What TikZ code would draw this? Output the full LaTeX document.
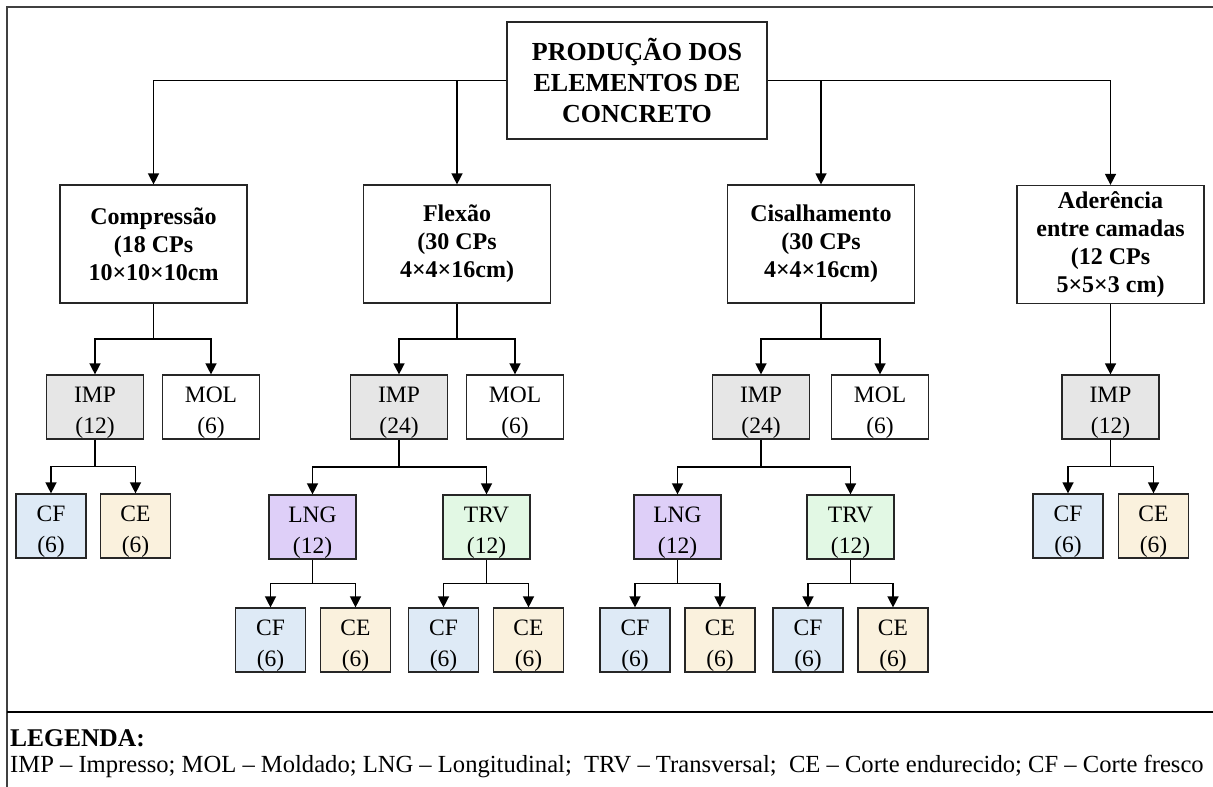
\documentclass[tikz,border=0pt]{standalone}
\usepackage{fontspec}
\setmainfont{Liberation Serif}
\usetikzlibrary{arrows.meta,calc}
\definecolor{impgray}{RGB}{230,230,230}
\definecolor{cfblue}{RGB}{222,234,246}
\definecolor{ceyellow}{RGB}{250,241,221}
\definecolor{lnglilac}{RGB}{222,207,248}
\definecolor{trvgreen}{RGB}{226,248,228}
\newcommand{\vz}{×}

\begin{document}
\begin{tikzpicture}[x=1pt,y=-1pt]
                        \tikzstyle{group}=[draw=black!85, line width=1.2pt, minimum width=187pt, minimum height=118pt, align=center, inner sep=0pt, font=\fontsize{24}{28}\selectfont\bfseries]
                        \tikzstyle{sample}=[draw=black!85, line width=1.2pt, minimum height=64pt, align=center, inner sep=0pt, text height=52pt, text depth=0pt, font=\fontsize{23.5}{31}\selectfont]
                        \tikzstyle{imp}=[sample, minimum width=97pt, fill=impgray]
                        \tikzstyle{mol}=[sample, minimum width=97pt]
                        \tikzstyle{lng}=[sample, minimum width=87pt, fill=lnglilac]
                        \tikzstyle{trv}=[sample, minimum width=87pt, fill=trvgreen]
                        \tikzstyle{cf}=[sample, minimum width=70pt, fill=cfblue]
                        \tikzstyle{ce}=[sample, minimum width=70pt, fill=ceyellow]
                        \tikzstyle{arr}=[line width=1.4pt, -{Triangle[length=11pt,width=11pt]}]
                        \tikzstyle{elbow}=[arr, to path={|- ($(\tikztostart)!0.5!(\tikztotarget)$) -| (\tikztotarget) \tikztonodes}]
                        \useasboundingbox (0,0) rectangle (1213,787);
                        % frame and legend rule
                        \draw[line width=1.3pt, black!75] (1213,7) -- (7,7) -- (7,787);
                        \draw[line width=1.3pt] (7,712) -- (1213,712);
                        % top
                        \node[draw=black!85, line width=1.2pt, minimum width=260pt, minimum height=117pt, align=center, inner sep=0pt, font=\fontsize{26}{31}\selectfont\bfseries] (root) at (637,80.5) {PRODUÇÃO DOS\\ELEMENTOS DE\\CONCRETO};
                        % tests
                        \node[group] (comp) at (153.5,244) {Compressão\\(18 CPs\\10\vz10\vz10cm};
                        \node[group] (flex) at (457,244) {Flexão\\(30 CPs\\4\vz4\vz16cm)};
                        \node[group] (cis) at (821,244) {Cisalhamento\\(30 CPs\\4\vz4\vz16cm)};
                        \node[group] (ader) at (1110.5,244.5) {Aderência\\entre camadas\\(12 CPs\\5\vz5\vz3 cm)};
                        % printed / moulded
                        \node[imp] (impA) at (95,407) {IMP\\(12)};
                        \node[mol] (molA) at (211,407) {MOL\\(6)};
                        \node[imp] (impB) at (399,407) {IMP\\(24)};
                        \node[mol] (molB) at (515,407) {MOL\\(6)};
                        \node[imp] (impC) at (761,407) {IMP\\(24)};
                        \node[mol] (molC) at (880,407) {MOL\\(6)};
                        \node[imp] (impD) at (1110.5,407) {IMP\\(12)};
                        % directions
                        \node[lng] (lngB) at (312.5,527) {LNG\\(12)};
                        \node[trv] (trvB) at (486.5,527) {TRV\\(12)};
                        \node[lng] (lngC) at (677.5,527) {LNG\\(12)};
                        \node[trv] (trvC) at (850.5,527) {TRV\\(12)};
                        % cuts
                        \node[cf] (cfA) at (51,526) {CF\\(6)};
                        \node[ce] (ceA) at (135.5,526) {CE\\(6)};
                        \node[cf] (cfD) at (1068,526) {CF\\(6)};
                        \node[ce] (ceD) at (1153.5,526) {CE\\(6)};
                        \node[cf] (cfB1) at (270.5,640) {CF\\(6)};
                        \node[ce] (ceB1) at (355.5,640) {CE\\(6)};
                        \node[cf] (cfB2) at (443.5,640) {CF\\(6)};
                        \node[ce] (ceB2) at (528.5,640) {CE\\(6)};
                        \node[cf] (cfC1) at (635,640) {CF\\(6)};
                        \node[ce] (ceC1) at (720,640) {CE\\(6)};
                        \node[cf] (cfC2) at (808,640) {CF\\(6)};
                        \node[ce] (ceC2) at (893,640) {CE\\(6)};
                        % connectors
                        \draw[arr] (root.west) -| (comp.north);
                        \draw[arr] (root.west) -| (flex.north);
                        \draw[arr] (root.east) -| (cis.north);
                        \draw[arr] (root.east) -| (ader.north);
                        \draw[elbow] (comp.south) to (impA.north);
                        \draw[elbow] (comp.south) to (molA.north);
                        \draw[elbow] (flex.south) to (impB.north);
                        \draw[elbow] (flex.south) to (molB.north);
                        \draw[elbow] (cis.south) to (impC.north);
                        \draw[elbow] (cis.south) to (molC.north);
                        \draw[arr] (ader.south) -- (impD.north);
                        \draw[elbow] (impA.south) to (cfA.north);
                        \draw[elbow] (impA.south) to (ceA.north);
                        \draw[elbow] (impD.south) to (cfD.north);
                        \draw[elbow] (impD.south) to (ceD.north);
                        \draw[elbow] (impB.south) to (lngB.north);
                        \draw[elbow] (impB.south) to (trvB.north);
                        \draw[elbow] (impC.south) to (lngC.north);
                        \draw[elbow] (impC.south) to (trvC.north);
                        \draw[elbow] (lngB.south) to (cfB1.north);
                        \draw[elbow] (lngB.south) to (ceB1.north);
                        \draw[elbow] (trvB.south) to (cfB2.north);
                        \draw[elbow] (trvB.south) to (ceB2.north);
                        \draw[elbow] (lngC.south) to (cfC1.north);
                        \draw[elbow] (lngC.south) to (ceC1.north);
                        \draw[elbow] (trvC.south) to (cfC2.north);
                        \draw[elbow] (trvC.south) to (ceC2.north);
                        % legend
                        \node[anchor=west, inner sep=0pt, font=\fontsize{25.5}{28}\selectfont\bfseries] (legtitle) at (10,738) {LEGENDA:};
                        \node[anchor=west, inner sep=0pt, font=\fontsize{24.6}{28}\selectfont] (legtext) at (10,766) {IMP – Impresso; MOL – Moldado; LNG – Longitudinal; \ TRV – Transversal; \ CE – Corte endurecido; CF – Corte fresco};
                    \end{tikzpicture}
\end{document}
